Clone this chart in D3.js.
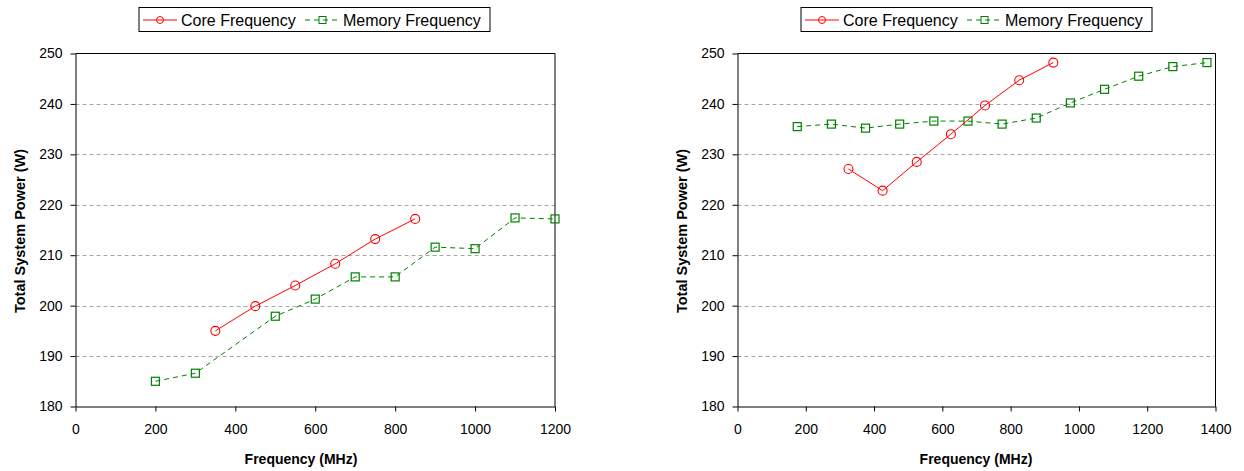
<!DOCTYPE html>
<html>
<head>
<meta charset="utf-8">
<script src="https://cdn.jsdelivr.net/npm/d3@7"></script>
<style>
  body { margin: 0; background: #fff; }
  svg { display: block; font-family: "Liberation Sans", Arial, sans-serif; }
</style>
</head>
<body>
<div id="chart"></div>
<script>
// Left panel
const leftCoreFreq = [350, 450, 550, 650, 750, 850];
const leftCorePower = [195.0, 199.9, 204.0, 208.3, 213.2, 217.2];
const leftMemFreq = [200, 300, 500, 600, 700, 800, 900, 1000, 1100, 1200];
const leftMemPower = [185.0, 186.6, 197.9, 201.3, 205.7, 205.7, 211.6, 211.3, 217.4, 217.2];

// Right panel
const rightCoreFreq = [325, 425, 525, 625, 725, 825, 925];
const rightCorePower = [227.1, 222.8, 228.5, 234.0, 239.7, 244.7, 248.2];
const rightMemFreq = [175, 275, 375, 475, 575, 675, 775, 875, 975, 1075, 1175, 1275, 1375];
const rightMemPower = [235.5, 236.0, 235.2, 236.0, 236.6, 236.6, 236.0, 237.2, 240.2, 242.9, 245.5, 247.4, 248.2];

const yTicks = [180, 190, 200, 210, 220, 230, 240, 250];
const seriesNames = ['Core Frequency', 'Memory Frequency'];

const W = 1244, H = 471;
const svg = d3.select('#chart').append('svg').attr('width', W).attr('height', H);

const panels = [
  { x0: 75.5, x1: 555, xMax: 1200, xTicks: d3.range(0, 1201, 200), titleX: 301, yTitleX: 20, legendX: 139,
    core: leftCoreFreq.map((f, i) => [f, leftCorePower[i]]),
    mem: leftMemFreq.map((f, i) => [f, leftMemPower[i]]) },
  { x0: 737.5, x1: 1215.5, xMax: 1400, xTicks: d3.range(0, 1401, 200), titleX: 976, yTitleX: 682, legendX: 801,
    core: rightCoreFreq.map((f, i) => [f, rightCorePower[i]]),
    mem: rightMemFreq.map((f, i) => [f, rightMemPower[i]]) }
];

const plotTop = 53.5, plotBottom = 406.5;
const red = '#ff0000', green = '#008000';

panels.forEach(p => {
  const x = d3.scaleLinear().domain([0, p.xMax]).range([p.x0, p.x1]);
  const y = d3.scaleLinear().domain([180, 250]).range([plotBottom, plotTop]);
  const g = svg.append('g');

  // gridlines
  g.selectAll('line.grid')
    .data(yTicks.filter(t => t > 180 && t < 250))
    .join('line')
      .attr('x1', p.x0).attr('x2', p.x1)
      .attr('y1', d => Math.round(y(d)) + 0.5).attr('y2', d => Math.round(y(d)) + 0.5)
      .attr('stroke', '#a6a6a6').attr('stroke-dasharray', '4,3');

  // frame top/right
  g.append('path')
    .attr('d', `M${p.x0},${plotTop}H${p.x1}V${plotBottom}`)
    .attr('fill', 'none').attr('stroke', '#000');

  const xAxis = g.append('g')
    .attr('transform', `translate(0,${plotBottom})`)
    .call(d3.axisBottom(x).tickValues(p.xTicks).tickFormat(d3.format('d'))
      .tickSize(5).tickPadding(13).tickSizeOuter(0));
  const yAxis = g.append('g')
    .attr('transform', `translate(${p.x0},0)`)
    .call(d3.axisLeft(y).tickValues(yTicks).tickFormat(d3.format('d'))
      .tickSize(5).tickPadding(8).tickSizeOuter(0));
  [xAxis, yAxis].forEach(a => {
    a.select('.domain').attr('stroke', '#000');
    a.selectAll('.tick line').attr('stroke', '#000');
    a.selectAll('text').attr('fill', '#000').style('font-size', '14px')
      .style('font-family', '"Liberation Sans", Arial, sans-serif');
  });

  // axis titles
  g.append('text')
    .attr('x', p.titleX).attr('y', 464)
    .attr('text-anchor', 'middle')
    .style('font-size', '14px').style('font-weight', 'bold')
    .text('Frequency (MHz)');
  g.append('text')
    .attr('transform', `translate(${p.yTitleX + 5},${(plotTop + plotBottom) / 2 + 1}) rotate(-90)`)
    .attr('text-anchor', 'middle')
    .style('font-size', '14.5px').style('font-weight', 'bold')
    .text('Total System Power (W)');

  const line = d3.line().x(d => x(d[0])).y(d => y(d[1]));

  // memory series
  g.append('path').datum(p.mem)
    .attr('d', line).attr('fill', 'none')
    .attr('stroke', green).attr('stroke-width', 1).attr('stroke-dasharray', '5,4');
  g.selectAll('rect.mem').data(p.mem).join('rect')
    .attr('x', d => x(d[0]) - 4).attr('y', d => y(d[1]) - 4)
    .attr('width', 8).attr('height', 8)
    .attr('fill', 'none').attr('stroke', green).attr('stroke-width', 1.2);

  // core series
  g.append('path').datum(p.core)
    .attr('d', line).attr('fill', 'none')
    .attr('stroke', red).attr('stroke-width', 1);
  g.selectAll('circle.core').data(p.core).join('circle')
    .attr('cx', d => x(d[0])).attr('cy', d => y(d[1])).attr('r', 4.5)
    .attr('fill', 'none').attr('stroke', red).attr('stroke-width', 1.1);

  // legend
  const lg = g.append('g').attr('transform', `translate(${p.legendX},7.5)`);
  lg.append('rect').attr('width', 351).attr('height', 24)
    .attr('fill', '#fff').attr('stroke', '#000');
  lg.append('line').attr('x1', 4).attr('x2', 38).attr('y1', 12.5).attr('y2', 12.5)
    .attr('stroke', red);
  lg.append('circle').attr('cx', 21).attr('cy', 12.5).attr('r', 3.5)
    .attr('fill', 'none').attr('stroke', red);
  lg.append('text').attr('x', 42).attr('y', 18).style('font-size', '16px').text(seriesNames[0]);
  lg.append('line').attr('x1', 166).attr('x2', 201).attr('y1', 12.5).attr('y2', 12.5)
    .attr('stroke', green).attr('stroke-dasharray', '5,4');
  lg.append('rect').attr('x', 180).attr('y', 9).attr('width', 7).attr('height', 7)
    .attr('fill', 'none').attr('stroke', green);
  lg.append('text').attr('x', 204).attr('y', 18).style('font-size', '16px').text(seriesNames[1]);
});
</script>
</body>
</html>
